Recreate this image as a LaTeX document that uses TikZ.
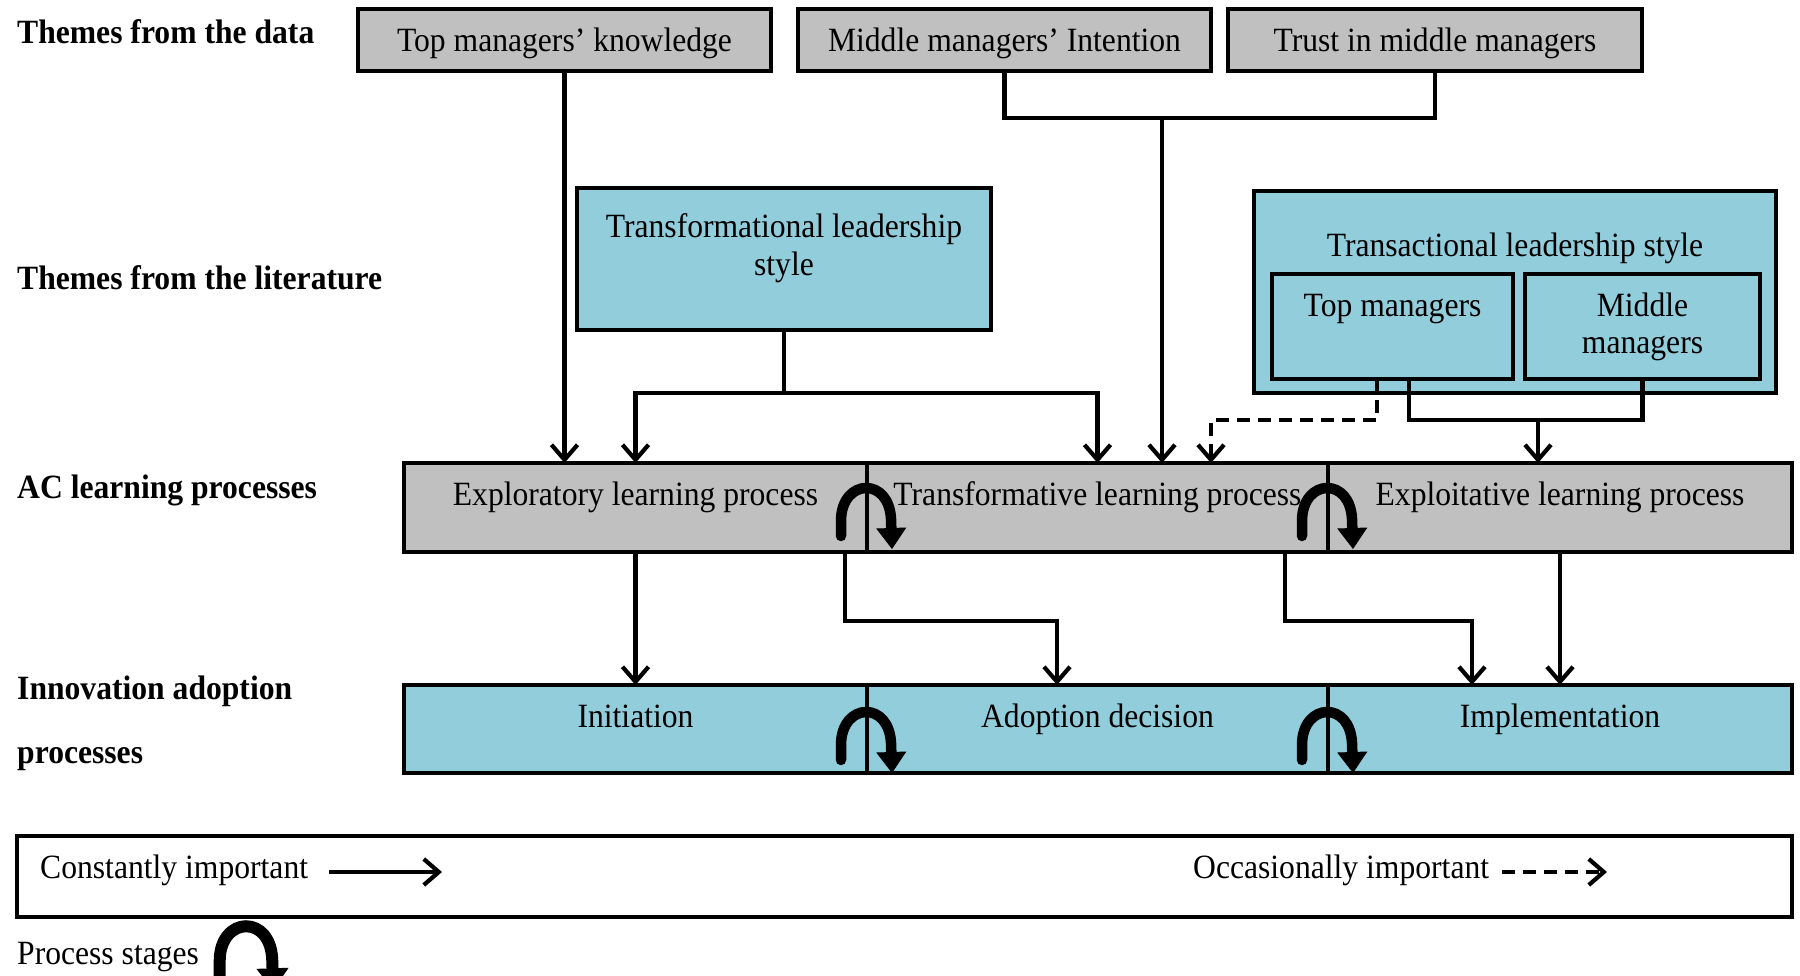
\documentclass[tikz,border=0pt]{standalone}
\usepackage{fontspec}
\setmainfont{Liberation Serif}[FakeStretch=0.93]
\usetikzlibrary{arrows.meta}
\definecolor{boxgray}{RGB}{192,192,192}
\definecolor{boxblue}{RGB}{146,205,220}

\tikzset{
  stage/.pic={
    \draw[#1] (-26,73) -- (-26,58) .. controls (-26,36) and (-13,25) .. (-1,25)
      .. controls (12,25) and (23,36) .. (24,56) -- (25,86);
  },
  rowstage/.style={line width=10.5pt, line cap=round,
    -{Triangle[length=21pt,width=30pt,line width=1pt]}},
  bigstage/.style={line width=12pt, line cap=round,
    -{Triangle[length=22pt,width=32pt,line width=1pt]}},
}

\begin{document}
\begin{tikzpicture}[x=1pt,y=-1pt,
  font=\fontsize{34pt}{40pt}\selectfont,
  box/.style={draw, line width=4.5pt, inner sep=0pt, outer sep=0pt, anchor=north west},
  graybox/.style={box, fill=boxgray},
  bluebox/.style={box, fill=boxblue},
  txt/.style={anchor=base, inner sep=0pt},
  head/.style={anchor=base west, inner sep=0pt, font=\fontsize{34pt}{40pt}\selectfont\bfseries},
  conn/.style={line width=4.2pt, -{Straight Barb[length=15pt,width=26pt]}},
  dashedconn/.style={conn, dash pattern=on 13pt off 8pt},
  plain/.style={line width=4.2pt},
]
\useasboundingbox (0,0) rectangle (1800,976);

% ---- row headings
\node[head] (h1) at (17,44) {Themes from the data};
\node[head] (h2) at (17,290) {Themes from the literature};
\node[head] (h3) at (17,498) {AC learning processes};
\node[head] (h4a) at (17,699) {Innovation adoption};
\node[head] (h4b) at (17,763) {processes};

% ---- themes from the data
\node[graybox, minimum width=413pt, minimum height=62pt] (tmk) at (358,9) {};
\node[txt] (tmkt) at (564.5,52) {Top managers’ knowledge};
\node[graybox, minimum width=413pt, minimum height=62pt] (mmi) at (798,9) {};
\node[txt] (mmit) at (1004.5,52) {Middle managers’ Intention};
\node[graybox, minimum width=414pt, minimum height=62pt] (trust) at (1228,9) {};
\node[txt] (trustt) at (1435,52) {Trust in middle managers};

% ---- themes from the literature
\node[bluebox, minimum width=414pt, minimum height=142pt] (tls) at (577,188) {};
\node[txt] (tlst1) at (784,238) {Transformational leadership};
\node[txt] (tlst2) at (784,276) {style};

\node[bluebox, minimum width=522pt, minimum height=202pt] (trl) at (1254,191) {};
\node[txt] (trlt) at (1515,257) {Transactional leadership style};
\node[bluebox, minimum width=241pt, minimum height=105pt] (tm) at (1272,274) {};
\node[txt] (tmt) at (1392.5,317) {Top managers};
\node[bluebox, minimum width=235pt, minimum height=105pt] (mm) at (1525,274) {};
\node[txt] (mmt1) at (1642.5,317) {Middle};
\node[txt] (mmt2) at (1642.5,354) {managers};

% ---- AC learning processes
\node[graybox, minimum width=463pt, minimum height=89pt] (ac1) at (404,463) {};
\node[graybox, minimum width=461pt, minimum height=89pt] (ac2) at (867,463) {};
\node[graybox, minimum width=464pt, minimum height=89pt] (ac3) at (1328,463) {};
\node[txt] (ac1t) at (635.5,505) {Exploratory learning process};
\node[txt] (ac2t) at (1097.5,505) {Transformative learning process};
\node[txt] (ac3t) at (1560,505) {Exploitative learning process};

% ---- innovation adoption processes
\node[bluebox, minimum width=463pt, minimum height=88pt] (ia1) at (404,685) {};
\node[bluebox, minimum width=461pt, minimum height=88pt] (ia2) at (867,685) {};
\node[bluebox, minimum width=464pt, minimum height=88pt] (ia3) at (1328,685) {};
\node[txt] (ia1t) at (635.5,727) {Initiation};
\node[txt] (ia2t) at (1097.5,727) {Adoption decision};
\node[txt] (ia3t) at (1560,727) {Implementation};

% ---- process stage markers
\pic at (ac2.north west) {stage=rowstage};
\pic at (ac3.north west) {stage=rowstage};
\pic at ([yshift=-2pt]ia2.north west) {stage=rowstage};
\pic at ([yshift=-2pt]ia3.north west) {stage=rowstage};

% ---- connectors into the AC learning processes
\draw[conn] (tmk.south) -- (tmk.south |- ac1.north);

\coordinate (datajoin) at (1162,118);
\draw[plain] (mmi.south) |- (datajoin) -| (trust.south);
\draw[conn] (datajoin) -- (datajoin |- ac2.north);

\coordinate (tlsjoin) at (784,393);
\draw[conn] (tls.south) -- (tlsjoin) -| (ac1.north);
\draw[conn] (tlsjoin) -| (ac2.north);

\coordinate (tmdash) at (1377,420);
\draw[dashedconn] (tmdash |- tm.south) -- (tmdash) -| ([xshift=113.5pt]ac2.north);

\coordinate (trljoin) at (1538,420);
\draw[plain] ([xshift=16.5pt]tm.south) |- (trljoin) -| (mm.south);
\draw[conn] (trljoin) -- (trljoin |- ac3.north);

% ---- connectors into the innovation adoption processes
\draw[conn] (ac1.south) -- (ia1.north);
\draw[conn] ([xshift=-22pt]ac1.south east) -- ++(0,69) -| ([xshift=-40.5pt]ia2.north);
\draw[conn] ([xshift=-43pt]ac2.south east) -- ++(0,69) -| ([xshift=-88pt]ia3.north);
\draw[conn] (ac3.south) -- (ia3.north);

% ---- legend
\node[box, minimum width=1775pt, minimum height=81pt] (legend) at (17,836) {};
\node[anchor=base west, inner sep=0pt] (legc) at (40,878) {Constantly important};
\coordinate (legc1) at (329,872);
\coordinate (legc2) at (442,872);
\draw[conn] (legc1) -- (legc2);
\node[anchor=base west, inner sep=0pt] (lego) at (1193,878) {Occasionally important};
\coordinate (lego1) at (1502,872);
\coordinate (lego2) at (1607,872);
\draw[dashedconn] (lego1) -- (lego2);
\node[anchor=base west, inner sep=0pt] (legp) at (17,964) {Process stages};
\pic[scale=1.05] at (247,900) {stage=bigstage};
\end{tikzpicture}
\end{document}
